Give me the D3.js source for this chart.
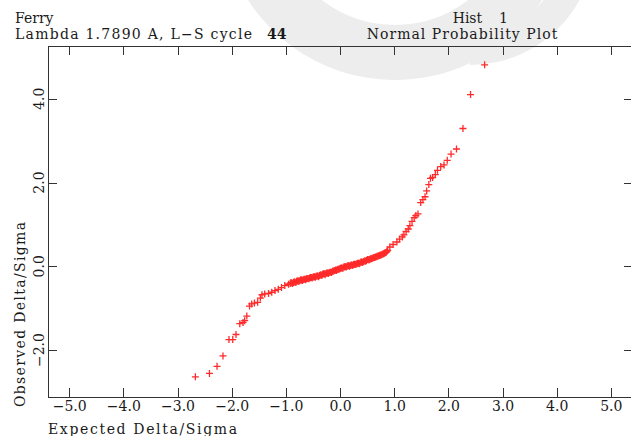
<!DOCTYPE html>
<html lang="en">
<head>
    <meta charset="UTF-8">
    <title>Normal Probability Plot</title>
    <script src="https://d3js.org/d3.v7.min.js"></script>
    <style>
        body { margin: 0; background: #fff; }
        text {
            font-family: "DejaVu Serif", serif;
            font-size: 14px;
            fill: #1a1a1a;
        }
        .axis path, .axis line { stroke: #333; stroke-width: 1; shape-rendering: crispEdges; }
        .axis text { font-family: "DejaVu Serif", serif; font-size: 14px; fill: #1a1a1a; }
    </style>
</head>
<body>
<script>
    let width = 631;
    let height = 436;

    // tick values
    let xTicks = [-5, -4, -3, -2, -1, 0, 1, 2, 3, 4, 5];
    let yTicks = [-2, 0, 2, 4];

    // expected vs observed delta/sigma (sorted)
    let lowTailX = [-2.67, -2.41, -2.27, -2.16, -2.05, -1.98, -1.92, -1.85, -1.79, -1.76, -1.72, -1.67, -1.63, -1.58, -1.52, -1.47, -1.44, -1.39, -1.32, -1.26, -1.20, -1.14, -1.08, -1.02, -0.95];
    let lowTailY = [-2.64, -2.56, -2.39, -2.14, -1.75, -1.75, -1.63, -1.37, -1.34, -1.30, -1.19, -0.95, -0.90, -0.88, -0.86, -0.76, -0.68, -0.66, -0.65, -0.62, -0.58, -0.55, -0.51, -0.46, -0.43];

    let middleX = [-0.92, -0.89, -0.86, -0.83, -0.80, -0.77, -0.74, -0.71, -0.68, -0.65, -0.62, -0.59, -0.56, -0.53, -0.50, -0.47, -0.44, -0.41, -0.38, -0.35, -0.32, -0.29, -0.26, -0.23, -0.20, -0.17, -0.14, -0.11, -0.08, -0.05, -0.02, 0.01, 0.04, 0.07, 0.10, 0.13, 0.16, 0.19, 0.22, 0.25, 0.28, 0.31, 0.34, 0.37, 0.40, 0.43, 0.46, 0.49, 0.52, 0.55, 0.58, 0.61, 0.64, 0.67, 0.70, 0.73, 0.76, 0.79, 0.82, 0.85, 0.88];
    let middleY = [-0.41, -0.40, -0.39, -0.38, -0.36, -0.35, -0.34, -0.33, -0.32, -0.31, -0.30, -0.29, -0.28, -0.27, -0.26, -0.25, -0.24, -0.23, -0.22, -0.20, -0.19, -0.18, -0.17, -0.16, -0.15, -0.14, -0.12, -0.11, -0.09, -0.08, -0.07, -0.05, -0.04, -0.02, -0.01, 0.00, 0.01, 0.02, 0.03, 0.04, 0.05, 0.06, 0.07, 0.08, 0.10, 0.11, 0.13, 0.14, 0.16, 0.17, 0.18, 0.20, 0.21, 0.23, 0.24, 0.26, 0.27, 0.29, 0.31, 0.33, 0.38];
    // second, interleaved row of the dense band
    let middleX2 = [-0.905, -0.875, -0.845, -0.815, -0.785, -0.755, -0.725, -0.695, -0.665, -0.635, -0.605, -0.575, -0.545, -0.515, -0.485, -0.455, -0.425, -0.395, -0.365, -0.335, -0.305, -0.275, -0.245, -0.215, -0.185, -0.155, -0.125, -0.095, -0.065, -0.035, -0.005, 0.025, 0.055, 0.085, 0.115, 0.145, 0.175, 0.205, 0.235, 0.265, 0.295, 0.325, 0.355, 0.385, 0.415, 0.445, 0.475, 0.505, 0.535, 0.565, 0.595, 0.625, 0.655, 0.685, 0.715, 0.745, 0.775, 0.805, 0.835, 0.865];
    let middleY2 = [-0.39, -0.41, -0.37, -0.39, -0.35, -0.36, -0.32, -0.34, -0.31, -0.32, -0.29, -0.30, -0.27, -0.28, -0.25, -0.26, -0.23, -0.25, -0.21, -0.22, -0.18, -0.20, -0.16, -0.17, -0.14, -0.15, -0.12, -0.10, -0.10, -0.07, -0.06, -0.04, -0.05, -0.01, -0.02, 0.01, 0.00, 0.03, 0.02, 0.05, 0.04, 0.07, 0.06, 0.10, 0.09, 0.12, 0.12, 0.16, 0.15, 0.18, 0.19, 0.21, 0.22, 0.24, 0.25, 0.27, 0.28, 0.30, 0.32, 0.35];

    let highTailX = [0.92, 0.98, 1.05, 1.10, 1.15, 1.18, 1.22, 1.26, 1.29, 1.33, 1.37, 1.40, 1.44, 1.49, 1.53, 1.57, 1.60, 1.64, 1.67, 1.71, 1.76, 1.80, 1.86, 1.92, 1.98, 2.05, 2.15, 2.27, 2.41, 2.67];
    let highTailY = [0.46, 0.52, 0.58, 0.65, 0.70, 0.75, 0.83, 0.89, 0.97, 1.07, 1.16, 1.21, 1.25, 1.52, 1.59, 1.66, 1.80, 1.95, 2.10, 2.12, 2.19, 2.29, 2.38, 2.42, 2.53, 2.68, 2.80, 3.29, 4.10, 4.81];

    let expected = lowTailX.concat(middleX, middleX2, highTailX);
    let observed = lowTailY.concat(middleY, middleY2, highTailY);
    let points = expected.map((x, i) => ({x: x, y: observed[i]}));

    let svg = d3.select("body").append("svg")
        .attr("width", width)
        .attr("height", height);

    svg.append("rect")
        .attr("width", "100%")
        .attr("height", "100%")
        .attr("fill", "#fff");

    // faint watermark behind everything
    let wm = svg.append("g").attr("fill", "#e6e6e6").attr("opacity", 0.7);
    wm.append("path")
        .attr("transform", "translate(395,-95)")
        .attr("d", d3.arc()({innerRadius: 120, outerRadius: 175, startAngle: Math.PI * 0.55, endAngle: Math.PI * 1.35}));
    wm.append("path")
        .attr("transform", "translate(470,-60)")
        .attr("d", d3.arc()({innerRadius: 95, outerRadius: 125, startAngle: Math.PI * 0.45, endAngle: Math.PI * 1.0}));

    let x = d3.scaleLinear().domain([-5.4, 5.4]).range([47.5, 632.5]);
    let y = d3.scaleLinear().domain([-3.11, 5.26]).range([396.5, 46]);

    let fmt = d => (d < 0 ? "\u2212" : "") + Math.abs(d).toFixed(1);

    // frame with inward ticks on all four sides
    svg.append("g")
        .attr("class", "axis")
        .attr("transform", "translate(0," + y.range()[0] + ")")
        .call(d3.axisBottom(x).tickValues(xTicks).tickSizeInner(-9).tickSizeOuter(0).tickPadding(5).tickFormat(fmt));

    svg.append("g")
        .attr("class", "axis")
        .attr("transform", "translate(0," + y.range()[1] + ")")
        .call(d3.axisTop(x).tickValues(xTicks).tickSizeInner(-9).tickSizeOuter(0).tickFormat(""));

    svg.append("g")
        .attr("class", "axis")
        .attr("transform", "translate(" + x.range()[0] + ",0)")
        .call(d3.axisLeft(y).tickValues(yTicks).tickSizeInner(-9).tickSizeOuter(0).tickFormat(""));

    svg.append("g")
        .attr("class", "axis")
        .attr("transform", "translate(" + x.range()[1] + ",0)")
        .call(d3.axisRight(y).tickValues(yTicks).tickSizeInner(-9).tickSizeOuter(0).tickFormat(""));

    // rotated y tick labels
    yTicks.forEach(t =>
        svg.append("text")
            .attr("transform", "translate(43.5," + y(t) + ") rotate(-90)")
            .attr("text-anchor", "middle")
            .text(fmt(t))
    );

    // axis titles
    svg.append("text")
        .attr("x", 48)
        .attr("y", 434)
        .attr("textLength", 189)
        .text("Expected Delta/Sigma");

    svg.append("text")
        .attr("transform", "translate(24.5,407) rotate(-90)")
        .attr("textLength", 185)
        .text("Observed Delta/Sigma");

    // header
    svg.append("text").attr("x", 15).attr("y", 22.5).text("Ferry");
    svg.append("text").attr("x", 15).attr("y", 38.5).attr("textLength", 237).text("Lambda 1.7890 A, L\u2212S cycle");
    svg.append("text").attr("x", 267).attr("y", 38.5).attr("font-weight", "bold").text("44");
    svg.append("text").attr("x", 452.7).attr("y", 22.5).text("Hist");
    svg.append("text").attr("x", 499).attr("y", 22.5).text("1");
    svg.append("text").attr("x", 366.7).attr("y", 38.5).attr("textLength", 190.6).text("Normal Probability Plot");

    // points as red crosses
    svg.append("g")
        .selectAll("path")
        .data(points)
        .join("path")
        .attr("transform", d => "translate(" + x(d.x) + "," + y(d.y) + ")")
        .attr("d", "M-3.5,0H3.5M0,-3.5V3.5")
        .attr("stroke", "#ff2a2a")
        .attr("stroke-width", 1.3)
        .attr("fill", "none");
</script>
</body>
</html>
